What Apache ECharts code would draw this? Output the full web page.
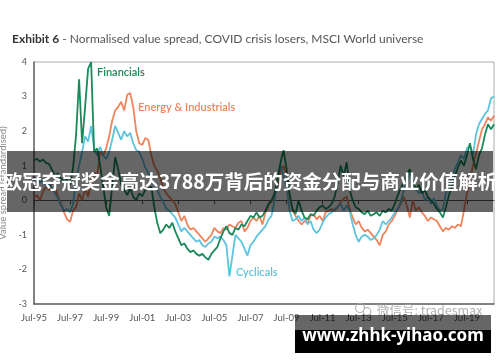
<!DOCTYPE html>
<html>
<head>
<meta charset="utf-8">
<script src="https://cdn.jsdelivr.net/npm/echarts@6/dist/echarts.min.js"></script>
<style>
html,body{margin:0;padding:0;background:#fff;}
#chart{width:500px;height:362px;}
</style>
</head>
<body>
<div id="chart"></div>
<script>
// Bi-monthly observations starting Jul-1995
const monthNames = ['Jan','Feb','Mar','Apr','May','Jun','Jul','Aug','Sep','Oct','Nov','Dec'];
const categories = [];
for (let i = 0; i < 154; i++) {
  const m = 6 + 2 * i;
  const yr = 1995 + Math.floor(m / 12);
  categories.push(monthNames[m % 12] + '-' + String(yr).slice(2));
}
const seriesNames = ['Energy & Industrials', 'Cyclicals', 'Financials'];
const yTicks = [-3, -2, -1, 0, 1, 2, 3, 4];

const financials = [
 1.15,1.2,1.12,1.18,1.08,1.05,0.88,0.72,0.78,0.62,
 0.55,0.6,0.45,0.95,1.9,3.5,1.65,2.7,3.8,4.0,
 1.4,1.5,1.0,0.4,-0.2,-0.45,0.4,1.25,0.9,0.45,
 0.3,0.15,0.35,0.1,0.0,0.2,0.12,0.3,0.35,0.4,
 -0.2,-0.65,-0.95,-0.85,-0.7,-0.8,-0.65,-0.9,-1.1,-1.3,
 -1.25,-1.4,-1.5,-1.45,-1.55,-1.6,-1.55,-1.65,-1.72,-1.55,
 -1.45,-1.35,-1.1,-0.9,-0.75,-0.95,-1.0,-0.8,-0.85,-0.7,
 -0.75,-0.6,-0.45,-0.5,-0.35,-0.5,-0.45,-0.3,-0.1,0.0,
 0.2,0.6,1.1,1.45,0.9,0.2,-0.25,-0.4,0.0,-0.3,
 -0.5,-0.55,-0.4,-0.45,-0.3,-0.2,-0.15,-0.25,-0.2,-0.1,
 0.1,0.5,1.0,0.7,1.1,0.3,0.0,-0.2,-0.25,-0.35,
 -0.4,-0.3,-0.45,-0.4,-0.35,-0.45,-0.3,-0.35,-0.25,-0.3,
 -0.1,0.15,0.35,0.5,0.75,0.9,0.5,0.3,0.45,0.2,
 0.3,0.1,0.0,-0.1,-0.25,-0.35,-0.5,-0.2,0.15,0.4,
 0.7,0.95,1.15,1.0,1.3,1.65,1.2,0.9,1.3,1.5,
 1.9,2.2,2.05,2.2
];
const energyIndustrials = [
 0.05,0.15,0.0,0.25,0.4,0.3,0.55,0.4,0.1,-0.1,
 -0.35,-0.55,-0.62,-0.3,-0.2,0.2,0.0,0.35,0.1,0.55,
 0.8,0.7,1.4,1.3,1.5,1.85,2.3,2.6,2.7,2.85,
 2.6,3.05,3.1,2.7,2.0,1.65,1.6,1.8,1.75,1.3,
 1.0,0.85,0.65,0.35,0.2,0.1,0.0,-0.1,-0.35,-0.6,
 -0.45,-0.7,-0.85,-0.8,-0.9,-1.0,-1.1,-1.2,-1.1,-1.0,
 -0.8,-0.9,-0.95,-0.8,-0.85,-0.7,-0.75,-0.8,-0.65,-0.6,
 -0.9,-0.8,-0.6,-0.5,-0.6,-0.45,-0.7,-0.35,-0.15,-0.05,
 0.15,0.4,0.85,1.0,0.7,0.1,-0.3,-0.45,-0.6,-0.7,
 -0.6,-0.65,-0.45,-0.4,-0.55,-0.45,-0.6,-0.35,-0.3,-0.25,
 -0.3,-0.2,-0.05,0.05,0.1,-0.25,-0.5,-0.7,-0.6,-0.8,
 -0.9,-0.85,-0.95,-1.05,-1.15,-1.3,-1.0,-0.9,-0.7,-0.6,
 -0.45,-0.25,-0.1,0.1,-0.15,-0.5,0.0,-0.3,-0.2,-0.35,
 -0.45,-0.6,-0.5,-0.55,-0.6,-0.75,-0.9,-0.8,-0.85,-0.75,
 -0.8,-0.7,-0.75,-0.3,0.2,0.6,1.0,1.35,1.7,2.05,
 2.2,2.4,2.3,2.45
];
const cyclicals = [
 0.55,0.65,0.5,0.6,0.4,0.5,0.35,0.2,0.05,-0.15,
 -0.3,-0.25,-0.35,-0.1,0.6,1.0,1.4,1.85,1.7,2.15,
 1.5,1.3,1.55,1.3,1.2,1.4,1.75,2.15,1.95,1.75,
 2.0,1.85,1.95,1.65,1.45,1.4,1.2,0.95,0.8,0.6,
 0.45,0.3,0.1,-0.05,-0.25,-0.3,-0.4,-0.5,-0.7,-0.9,
 -0.8,-0.9,-1.0,-1.1,-1.2,-1.15,-1.3,-1.35,-1.25,-1.2,
 -1.05,-1.1,-1.05,-1.15,-1.3,-2.2,-1.6,-1.0,-1.1,-1.2,
 -1.4,-1.6,-1.3,-1.2,-1.05,-0.95,-0.85,-0.75,-0.55,-0.45,
 0.0,0.6,1.0,0.7,0.4,-0.3,-0.6,-0.55,-0.45,-0.6,
 -0.5,-0.7,-0.6,-0.85,-0.95,-0.85,-0.65,-0.5,-0.4,-0.35,
 -0.25,-0.2,-0.1,-0.3,-0.15,-0.3,-0.7,-1.0,-1.2,-1.05,
 -1.0,-1.05,-1.15,-1.1,-1.0,-0.85,-0.6,-0.7,-0.6,-0.5,
 -0.35,-0.25,-0.05,0.3,0.5,0.8,0.6,0.35,0.2,0.3,
 0.0,0.1,-0.1,0.05,-0.15,-0.3,-0.25,0.2,0.45,0.7,
 0.9,1.1,1.3,1.2,1.5,1.6,1.3,1.9,2.2,2.35,
 2.5,2.6,2.95,3.0
];

const C_FIN = '#1b8a5a', C_EI = '#f0845c', C_CYC = '#5ec3dd';
const FONT = 'Lato, "Noto Sans", sans-serif';
const WM = 'rgba(165,165,165,0.85)';

const chart = echarts.init(document.getElementById('chart'), null, {renderer: 'canvas'});
chart.setOption({
  animation: false,
  backgroundColor: '#fff',
  title: {
    left: 7, top: 28,
    text: '{b|Exhibit 6}{n| - Normalised value spread, COVID crisis losers, MSCI World universe}',
    textStyle: {
      fontWeight: 'normal',
      rich: {
        b: {fontFamily: FONT, fontWeight: 'bold', fontSize: 12, color: '#333'},
        n: {fontFamily: FONT, fontWeight: 'normal', fontSize: 12, color: '#555'}
      }
    }
  },
  grid: {left: 34, top: 62, right: 6, bottom: 58, show: true, borderColor: '#aaa', borderWidth: 1, containLabel: false, outerBoundsMode: 'none'},
  xAxis: [
    {
      type: 'category', data: categories, boundaryGap: false, position: 'bottom',
      axisLine: {show: true, onZero: false, lineStyle: {color: '#666', width: 1.5}},
      axisTick: {show: false},
      axisLabel: {interval: 11, color: '#555', fontSize: 9.5, fontFamily: FONT, margin: 9}
    },
    {
      type: 'category', data: categories, boundaryGap: false, position: 'bottom',
      axisLine: {show: true, onZero: true, lineStyle: {color: '#555', width: 1}},
      axisTick: {show: true, interval: 11, length: 4, lineStyle: {color: '#555'}},
      axisLabel: {show: false}
    }
  ],
  yAxis: {
    type: 'value', min: -3, max: 4, interval: 1,
    name: 'Value spread (standardised)', nameLocation: 'middle', nameGap: 20, nameRotate: 90,
    nameTextStyle: {color: '#888', fontSize: 9.5, fontFamily: FONT},
    axisLine: {show: true, lineStyle: {color: '#666', width: 1.5}},
    axisTick: {show: false},
    splitLine: {show: false},
    axisLabel: {color: '#555', fontSize: 9, fontFamily: FONT, margin: 7}
  },
  series: [
    {name: seriesNames[0], type: 'line', data: energyIndustrials, showSymbol: false, lineStyle: {color: C_EI, width: 1.8}, itemStyle: {color: C_EI}, z: 2},
    {name: seriesNames[1], type: 'line', data: cyclicals, showSymbol: false, lineStyle: {color: C_CYC, width: 1.8}, itemStyle: {color: C_CYC}, z: 3},
    {name: seriesNames[2], type: 'line', data: financials, showSymbol: false, lineStyle: {color: C_FIN, width: 1.8}, itemStyle: {color: C_FIN}, z: 4}
  ],
  graphic: [
    {type: 'text', left: 97, top: 67, z: 50, style: {text: 'Financials', fill: C_FIN, font: '600 11px ' + FONT}},
    {type: 'text', left: 138, top: 102, z: 50, style: {text: 'Energy & Industrials', fill: C_EI, font: '600 11px ' + FONT}},
    {type: 'text', left: 236, top: 267, z: 50, style: {text: 'Cyclicals', fill: C_CYC, font: '600 11px ' + FONT}},
    {type: 'rect', z: 100, shape: {x: 7, y: 151, width: 486, height: 61}, style: {fill: 'rgba(0,0,0,0.6)'}},
    {type: 'text', z: 101, x: 250, y: 182, style: {text: '欧冠夺冠奖金高达3788万背后的资金分配与商业价值解析', fill: '#fff', font: 'bold 19.5px "Noto Sans CJK SC", sans-serif', align: 'center', verticalAlign: 'middle'}},
    {type: 'text', z: 100, x: 377, y: 310, style: {text: '微信号: tradesmax', fill: WM, font: '12.5px "Noto Sans CJK SC", sans-serif', verticalAlign: 'middle'}},
    {type: 'circle', z: 100, shape: {cx: 360, cy: 308, r: 4.5}, style: {fill: 'none', stroke: WM, lineWidth: 1.2}},
    {type: 'circle', z: 100, shape: {cx: 367, cy: 311.5, r: 3.8}, style: {fill: '#fff', stroke: WM, lineWidth: 1.2}},
    {type: 'rect', z: 100, shape: {x: 295, y: 315, width: 196, height: 15}, style: {fill: 'rgba(0,0,0,0.6)'}},
    {type: 'rect', z: 100, shape: {x: 295, y: 330, width: 196, height: 23}, style: {fill: '#000'}},
    {type: 'text', z: 101, x: 393, y: 336, style: {text: 'www.zhhk-yihao.com', fill: '#fff', font: 'bold 17px "Noto Sans", sans-serif', align: 'center', verticalAlign: 'middle'}}
  ]
});
</script>
</body>
</html>
